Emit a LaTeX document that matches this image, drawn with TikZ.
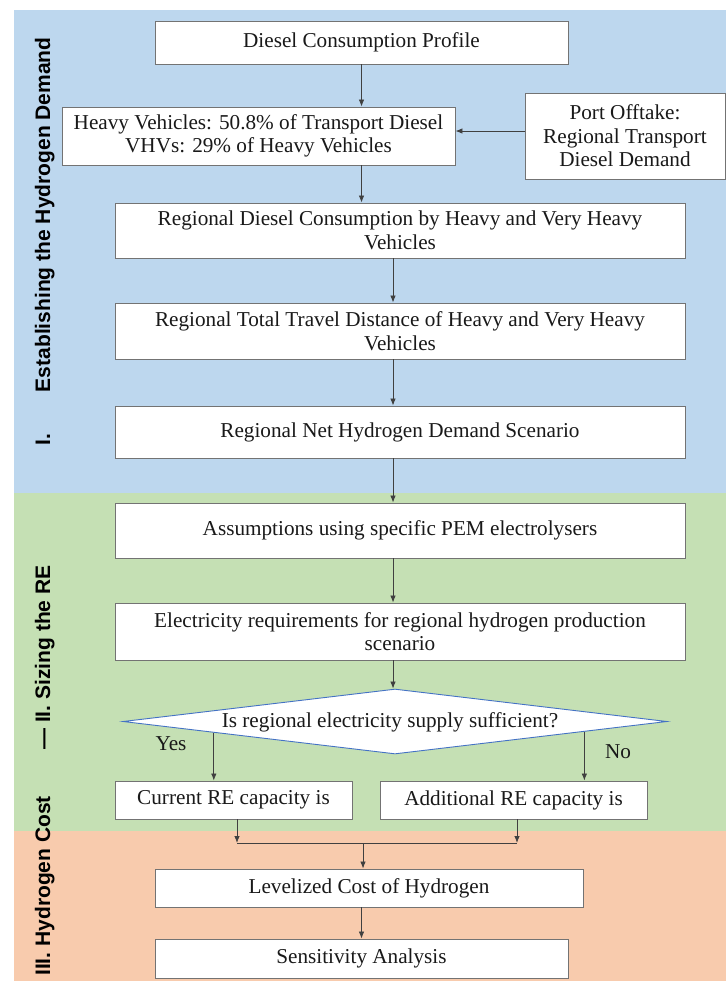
\documentclass[tikz,border=0pt]{standalone}
\usepackage{fontspec}
\setmainfont{Liberation Serif}
\newfontfamily\labfont{Liberation Sans}
\usetikzlibrary{shapes.geometric,arrows.meta,calc}
\definecolor{bgblue}{HTML}{BDD7EE}
\definecolor{bggreen}{HTML}{C5E0B4}
\definecolor{bgorange}{HTML}{F8CBAD}
\definecolor{diablue}{HTML}{4472C4}
\tikzset{
  box/.style={draw=black!55, line width=0.9pt, fill=white, inner sep=0pt, align=center,
    font=\fontsize{21.2}{23.5}\selectfont, text=black!90},
  arr/.style={draw=black!75, line width=0.8pt, -{Latex[length=7pt,width=5.5pt]}},
  plain/.style={draw=black!75, line width=0.8pt},
  sidelab/.style={rotate=90, anchor=base west, inner sep=0pt, font=\labfont\bfseries\fontsize{21}{24}\selectfont, text=black},
  yn/.style={inner sep=0pt, font=\fontsize{21.2}{23.5}\selectfont, text=black!90}
}
\begin{document}
\begin{tikzpicture}[x=1pt,y=-1pt]
\useasboundingbox (0,0) rectangle (726,983);
% backgrounds
\fill[bgblue] (14,10) rectangle (726,493);
\fill[bggreen] (14,493) rectangle (726,831);
\fill[bgorange] (14,831) rectangle (726,981);
% side labels
\node[sidelab] (labI) at (50,446) {I.\hspace{42pt}Establishing the Hydrogen Demand};
\node[sidelab] (labII) at (50,750) {— II. Sizing the RE};
\node[sidelab] (labIII) at (50,976) {III. Hydrogen Cost};
% boxes
\node[box, minimum width=413pt, minimum height=43pt] (b1) at (361.5,42.5) {Diesel Consumption Profile};
\node[box, minimum width=393pt, minimum height=58pt] (b2) at (258.5,136) {Heavy Vehicles: 50.8\% of Transport Diesel\\VHVs: 29\% of Heavy Vehicles};
\node[box, minimum width=200pt, minimum height=86pt] (port) at (625,136) {Port Offtake:\\Regional Transport\\Diesel Demand};
\node[box, minimum width=570pt, minimum height=55pt] (b4) at (400,230.5) {Regional Diesel Consumption by Heavy and Very Heavy\\Vehicles};
\node[box, minimum width=570pt, minimum height=56pt] (b5) at (400,331) {Regional Total Travel Distance of Heavy and Very Heavy\\Vehicles};
\node[box, minimum width=570pt, minimum height=52pt] (b6) at (400,432) {Regional Net Hydrogen Demand Scenario};
\node[box, minimum width=570pt, minimum height=55pt] (b7) at (400,530.5) {Assumptions using specific PEM electrolysers};
\node[box, minimum width=570pt, minimum height=57pt] (b8) at (400,631.5) {Electricity requirements for regional hydrogen production\\scenario};
\node[diamond, draw=diablue, line width=0.9pt, fill=white, inner sep=0pt,
  minimum width=544pt, minimum height=65pt] (dia) at (395,721.5) {};
\node[yn] (diatext) at (390,722) {Is regional electricity supply sufficient?};
\node[yn] (yes) at (171,744) {Yes};
\node[yn] (no) at (618,752) {No};
\node[box, minimum width=237pt, minimum height=38pt] (cur) at (233.5,800) {Current RE capacity is};
\node[box, minimum width=267pt, minimum height=38pt] (add) at (513.5,800) {Additional RE capacity is};
\node[box, minimum width=428pt, minimum height=38pt] (lcoh) at (369,888) {Levelized Cost of Hydrogen};
\node[box, minimum width=413pt, minimum height=39pt] (sens) at (361.5,958.5) {Sensitivity Analysis};
% helper coordinates
\coordinate (ax) at (393,0);
\coordinate (pa) at (525,131);
\coordinate (dl) at ($(dia.west)!0.335!(dia.south)$);
\coordinate (dr) at ($(dia.east)!0.305!(dia.south)$);
\coordinate (jl) at (237,843);
\coordinate (jr) at (517,843);
\coordinate (jm) at (363,843);
% connectors
\draw[arr] (b1.south) -- (b1.south |- b2.north);
\draw[arr] (pa) -- (pa -| b2.east);
\draw[arr] (b1.south |- b2.south) -- (b1.south |- b4.north);
\draw[arr] (b4.south -| ax) -- (b5.north -| ax);
\draw[arr] (b5.south -| ax) -- (b6.north -| ax);
\draw[arr] (b6.south -| ax) -- (b7.north -| ax);
\draw[arr] (b7.south -| ax) -- (b8.north -| ax);
\draw[arr] (b8.south -| ax) -- (dia.north -| ax);
\draw[arr] (dl) -- (dl |- cur.north);
\draw[arr] (dr) -- (dr |- add.north);
\draw[arr] (cur.south -| jl) -- (jl);
\draw[arr] (add.south -| jr) -- (jr);
\draw[plain] (jl) -- (jr);
\draw[arr] (jm) -- (jm |- lcoh.north);
\draw[arr] (lcoh.south -| b1.south) -- (sens.north -| b1.south);
\end{tikzpicture}
\end{document}
